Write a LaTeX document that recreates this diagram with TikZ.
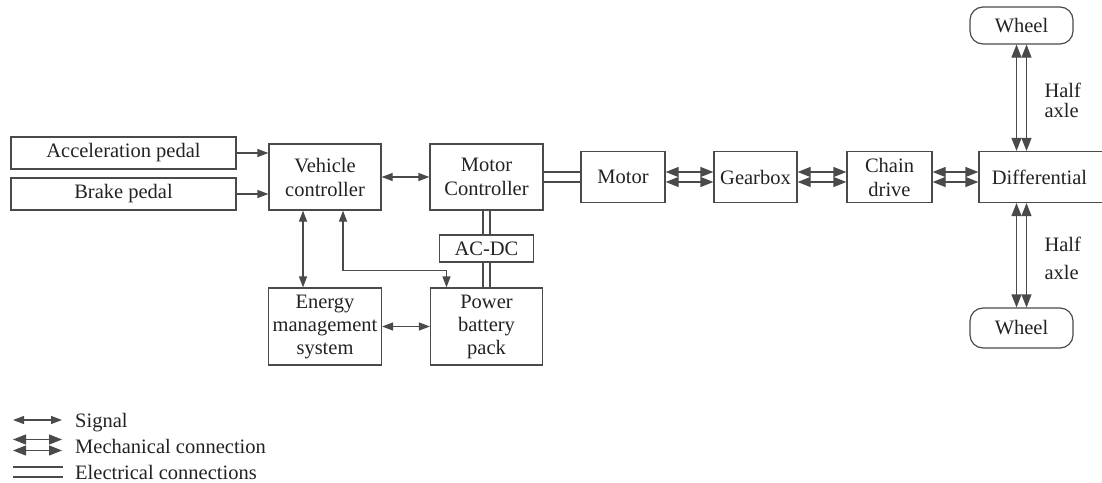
\documentclass[tikz,border=0pt]{standalone}
\usepackage{fontspec}
\setmainfont{Liberation Serif}
\usetikzlibrary{positioning, arrows.meta}
\definecolor{linegray}{HTML}{4A4A4A}
\definecolor{textgray}{HTML}{222222}

\begin{document}
\begin{tikzpicture}[x=1pt, y=-1pt,
    font=\fontsize{20.5}{24}\selectfont, text=textgray,
    box/.style={draw=linegray, line width=1.2pt, inner sep=1pt, align=center},
    wheelbox/.style={box, rounded corners=13pt, minimum width=103pt},
    sig/.style={<->, >={Triangle[length=11pt, width=8pt]}, draw=linegray, line width=1.2pt},
    sigin/.style={sig, ->},
    mech/.style={<->, >={Triangle[length=13pt, width=10pt]}, draw=linegray, line width=1.2pt},
    elec/.style={draw=linegray, line width=1.2pt, double=white, double distance=8.8pt},
    elecv/.style={elec, double distance=5.8pt},
    legtext/.style={anchor=base west, inner sep=0pt}]
    \useasboundingbox (0,0) rectangle (1102,482);

    % Pedals and controllers
    \node[box, minimum width=225pt, minimum height=32pt] (accel) at (123.5,153) {Acceleration pedal};
    \node[box, minimum width=225pt, minimum height=32pt] (brake) at (123.5,194) {Brake pedal};
    \node[box, minimum width=112pt, minimum height=66pt] (vc) at (325,177) {Vehicle\\controller};
    \node[box, minimum width=113pt, minimum height=66pt] (mc) at (486.5,177) {Motor\\Controller};

    % Drive line
    \node[box, minimum width=84pt, minimum height=51pt] (motor) at (623,177) {Motor};
    \node[box, minimum width=83pt, minimum height=51pt] (gear) at (755.5,177) {Gearbox};
    \node[box, minimum width=85pt, minimum height=51pt] (chain) at (889.5,177) {Chain\\drive};
    \node[box, minimum width=127pt, minimum height=51pt] (diff) at (1042.5,177) {\hspace*{-6pt}Differential};
    \node[wheelbox, minimum height=37pt] (wtop) at (1021.5,25.5) {Wheel};
    \node[wheelbox, minimum height=40pt] (wbot) at (1021.5,328) {Wheel};

    % Power side
    \node[box, minimum width=94pt, minimum height=27pt] (acdc) at (486.5,248.5) {AC-DC};
    \node[box, minimum width=113pt, minimum height=77pt, font=\fontsize{20.5}{23}\selectfont] (ems) at (325,326.5) {Energy\\management\\system};
    \node[box, minimum width=112pt, minimum height=77pt, font=\fontsize{20.5}{23}\selectfont] (pbp) at (486.5,326.5) {Power\\battery\\pack};

    % Signal lines
    \draw[sigin] (accel.east) -- (vc.west |- accel.east);
    \draw[sigin] (brake.east) -- (vc.west |- brake.east);
    \draw[sig] (vc.east) -- (mc.west);
    \draw[sig] ([xshift=-22pt]vc.south) -- ([xshift=-22pt]ems.north);
    \draw[sig] ([xshift=18pt]vc.south) -- ++(0,60) -| ([xshift=-40pt]pbp.north);
    \draw[sig] (ems.east) -- (pbp.west);

    % Electrical lines
    \draw[elec] (mc.east) -- (motor.west);
    \draw[elecv] (mc.south) -- (acdc.north);
    \draw[elecv] (acdc.south) -- (pbp.north);

    % Mechanical lines
    \foreach \s in {-5,5} {
        \draw[mech] ([yshift=\s pt]motor.east) -- ([yshift=\s pt]gear.west);
        \draw[mech] ([yshift=\s pt]gear.east) -- ([yshift=\s pt]chain.west);
        \draw[mech] ([yshift=\s pt]chain.east) -- ([yshift=\s pt]diff.west);
        \draw[mech] ([xshift=\s pt]wtop.south) -- ([xshift=\s pt]wtop.south |- diff.north);
        \draw[mech] ([xshift=\s pt]wbot.north) -- ([xshift=\s pt]wbot.north |- diff.south);
    }
    \node[anchor=west, align=left, font=\fontsize{20.5}{20}\selectfont] (axtop) at (1041,100) {Half\\axle};
    \node[anchor=west, align=left, font=\fontsize{20.5}{28}\selectfont] (axbot) at (1041,258) {Half\\axle};

    % Legend
    \coordinate (sigA) at (13,420);
    \coordinate (sigB) at (62,420);
    \coordinate (mechA) at (13,445);
    \coordinate (mechB) at (62,445);
    \coordinate (elecA) at (13,472);
    \coordinate (elecB) at (63,472);
    \draw[sig] (sigA) -- (sigB);
    \draw[mech] ([yshift=5.5pt]mechA) -- ([yshift=5.5pt]mechB);
    \draw[mech] ([yshift=-5.5pt]mechA) -- ([yshift=-5.5pt]mechB);
    \draw[elec] (elecA) -- (elecB);
    \node[legtext] (lsig) at (75,427) {Signal};
    \node[legtext] (lmech) at (75,453) {Mechanical connection};
    \node[legtext] (lelec) at (75,479) {Electrical connections};
\end{tikzpicture}
\end{document}
